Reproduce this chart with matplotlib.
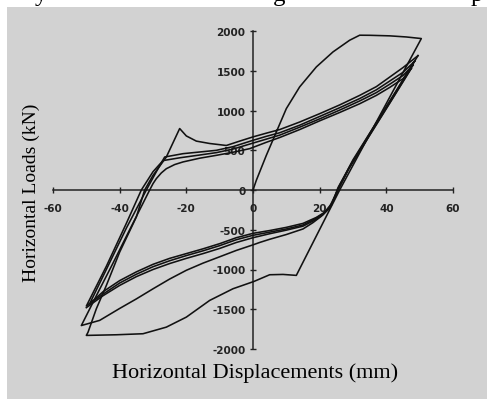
import matplotlib
matplotlib.use('Agg')
import matplotlib.pyplot as plt
from matplotlib.patches import Rectangle

plt.rcParams['axes.unicode_minus'] = False

# displacement (mm) / load (kN)
# cycle 1: virgin loading, big loop, reload with the bump
cycle1_x = [0, 1, 4, 7, 10, 14, 19, 24, 29, 32, 35, 41, 46, 50.5,
            26, 13, 9, 5, 0.3, -6, -13, -20, -26, -33, -41, -50,
            -49.5, -47, -44, -40, -35, -32.5, -30, -26, -22,
            -20, -17, -13, -8, -4, 0, 4, 8, 14, 20, 26, 32, 37, 41, 45, 49.5]
cycle1_y = [0, 122, 436, 730, 1024, 1297, 1548, 1737, 1884, 1947, 1946, 1939, 1925, 1905,
            0, -1074, -1062, -1066, -1150, -1242, -1389, -1599, -1725, -1808, -1821, -1829,
            -1790, -1494, -1201, -781, -340, 0, 184, 415, 773,
            680, 615, 585, 560, 615, 668, 715, 760, 855, 960, 1070, 1190, 1300, 1420, 1540, 1690]

# cycle 2: unload, lower branch, reload with the knee
cycle2_x = [49.5, 43, 36, 30, 26, 24, 21.5, 19, 15, 10, 5, 0, -5, -10, -15, -20, -25, -30, -35, -40, -45, -49,
            -44, -38, -32, -29, -26.5, -21, -16, -11, -6, 0, 4, 8, 14, 20, 26, 32, 37, 41, 45, 48.5]
cycle2_y = [1690, 1250, 780, 380, 60, -150, -280, -345, -420, -470, -510, -545, -600, -675, -740, -800, -860, -935, -1030, -1140, -1280, -1430,
            -1000, -480, 0, 230, 415, 457, 478, 499, 545, 625, 675, 720, 815, 925, 1035, 1150, 1260, 1370, 1480, 1620]

# cycle 3
cycle3_x = [48.5, 42, 35, 29.5, 25.5, 23.5, 21, 18.5, 15, 10, 5, 0, -5, -10, -15, -20, -25, -30, -35, -40, -45, -50,
            -44, -38, -33.5, -30, -27, -22, -16, -11, -6, 0, 4, 8, 14, 20, 26, 32, 37, 41, 45, 48]
cycle3_y = [1620, 1180, 710, 330, 30, -194, -300, -365, -440, -490, -530, -570, -625, -700, -765, -825, -890, -965, -1060, -1170, -1310, -1460,
            -960, -420, 0, 230, 370, 405, 440, 470, 515, 590, 640, 690, 790, 895, 1005, 1120, 1225, 1330, 1440, 1570]

# cycle 4: lowest lower branch, smooth reload
cycle4_x = [48, 41.5, 34.5, 29, 25.5, 23, 20.5, 18, 15, 10, 5, 2, 0, -5, -10, -15, -20, -25, -30, -35, -40, -46, -51.5,
            -47, -42, -37, -31, -30, -29, -27.5, -26, -23.5, -21, -16, -11, -6, -1, 4, 8, 14, 20, 26, 32, 37, 41, 45, 47.5]
cycle4_y = [1570, 1130, 660, 290, 0, -230, -330, -410, -490, -560, -620, -660, -690, -760, -840, -920, -1010, -1120, -1243, -1370, -1490, -1640, -1705,
            -1330, -920, -500, 0, 80, 143, 215, 268, 320, 353, 400, 436, 475, 520, 600, 660, 760, 870, 975, 1085, 1190, 1290, 1400, 1530]

# cycle 5: last unloading
cycle5_x = [47.5, 41, 34, 28.5, 25.2, 23, 21, 18.5, 15, 10, 5, 0, -5, -10, -15, -20, -25, -30, -35, -40, -45, -50]
cycle5_y = [1530, 1090, 620, 250, -20, -210, -310, -380, -455, -505, -550, -600, -660, -735, -800, -860, -925, -1000, -1090, -1200, -1330, -1480]

x_ticks = [-60, -40, -20, 0, 20, 40, 60]
y_ticks = [-2000, -1500, -1000, -500, 0, 500, 1000, 1500, 2000]

W, H = 487, 402
fig = plt.figure(figsize=(W / 100, H / 100), dpi=100)
fig.patch.set_facecolor('white')
fig.add_artist(Rectangle((7 / W, 2 / H), 480 / W, 392 / H, transform=fig.transFigure,
                         facecolor='#d2d2d2', edgecolor='none', zorder=0))

# bits of the caption line cut off at the top of the scan
for ch, px in [('y', 41), ('g', 279), ('p', 477)]:
    fig.text(px / W, 1 - 1 / H, ch, family='Liberation Serif', fontsize=18,
             ha='center', va='baseline', color='black')

ax = fig.add_axes([53 / W, 52 / H, 400 / W, 318 / H])
ax.patch.set_visible(False)

for cx, cy in [(cycle1_x, cycle1_y), (cycle2_x, cycle2_y), (cycle3_x, cycle3_y),
               (cycle4_x, cycle4_y), (cycle5_x, cycle5_y)]:
    ax.plot(cx, cy, color='#111111', lw=1.15, zorder=3, solid_joinstyle='round')

ax.set_xlim(-60, 60)
ax.set_ylim(-2000, 2000)
ax.spines['left'].set_position('zero')
ax.spines['bottom'].set_position('zero')
ax.spines['top'].set_visible(False)
ax.spines['right'].set_visible(False)
for s in ['left', 'bottom']:
    ax.spines[s].set_linewidth(1.1)
    ax.spines[s].set_color('#222222')

ax.set_xticks(x_ticks)
ax.set_yticks(y_ticks)
ax.set_xticklabels([str(v) for v in x_ticks])
ax.set_yticklabels([str(v) for v in y_ticks])
ax.tick_params(direction='inout', length=5, width=1, color='#222222', labelsize=7.5)
ax.tick_params(axis='x', pad=7)
ax.tick_params(axis='y', pad=3)
for lab in ax.get_xticklabels() + ax.get_yticklabels():
    lab.set_fontweight('bold')
    lab.set_color('#222222')

fig.text(255 / W, 1 - 373 / H, 'Horizontal Displacements (mm)', family='Liberation Serif',
         fontsize=16, ha='center', va='center')
fig.text(31 / W, 1 - 193 / H, 'Horizontal Loads (kN)', family='Liberation Serif',
         fontsize=14, ha='center', va='center', rotation=90)

fig.savefig('out.png', dpi=100)
